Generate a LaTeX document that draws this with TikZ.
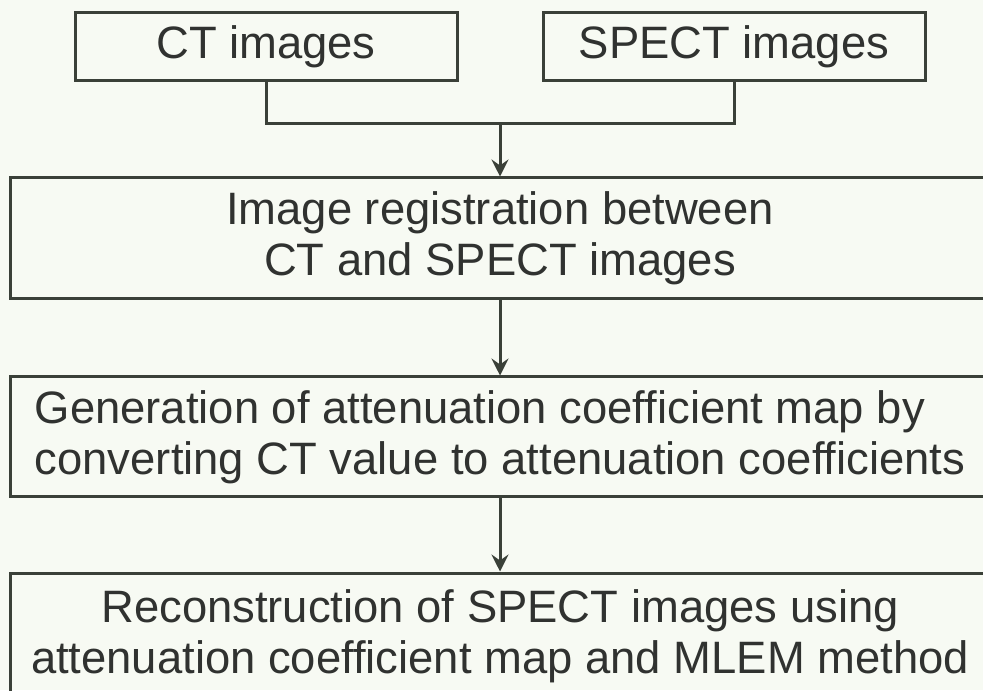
\documentclass[tikz,border=0pt]{standalone}
\usepackage{fontspec}
\setmainfont{Liberation Sans}
\usepackage{xcolor}
\usepackage{tikz}
\usetikzlibrary{arrows.meta,positioning,calc}
\definecolor{paper}{RGB}{247,250,243}
\definecolor{ink}{RGB}{58,64,56}
\definecolor{txt}{RGB}{48,50,48}

\begin{document}
\begin{tikzpicture}[x=0.5pt, y=0.5pt,
    box/.style={draw=ink, line width=1.5pt, rectangle, text=txt,
      font=\fontsize{22.7pt}{25.5pt}\selectfont},
    wide/.style={box, minimum width=490pt},
    flow/.style={draw=ink, line width=1.5pt},
    arr/.style={flow, -{Stealth[length=8.5pt, width=8.5pt, inset=3pt]}}]
    % page frame, the wide boxes run off the right edge
    \useasboundingbox (0,0) rectangle (983,690);
    \clip (0,0) rectangle (983,690);
    \fill[paper] (0,0) rectangle (983,690);
    % the two inputs
    \node[box, minimum width=191pt, minimum height=34pt] (ct) at (266, 643) {CT images};
    \node[box, minimum width=191pt, minimum height=34pt] (spect) at (734, 643) {SPECT images};
    % processing steps
    \node[wide, align=center, minimum height=60.5pt] (reg) at (500, 451.5)
      {Image registration between\\CT and SPECT images};
    \node[wide, align=left, minimum height=60pt] (mumap) at (500, 253)
      {Generation of attenuation coefficient map by\\converting CT value to attenuation coefficients};
    \node[wide, align=center, minimum height=63pt] (recon) at (500, 54)
      {Reconstruction of SPECT images using\\attenuation coefficient map and MLEM method};
    % join the inputs, then go down
    \coordinate (join) at (500, 566);
    \draw[flow] (ct.south) |- (join) -| (spect.south);
    \draw[arr] (join) -- (reg.north);
    \draw[arr] (reg.south) -- (mumap.north);
    \draw[arr] (mumap.south) -- (recon.north);
\end{tikzpicture}
\end{document}
